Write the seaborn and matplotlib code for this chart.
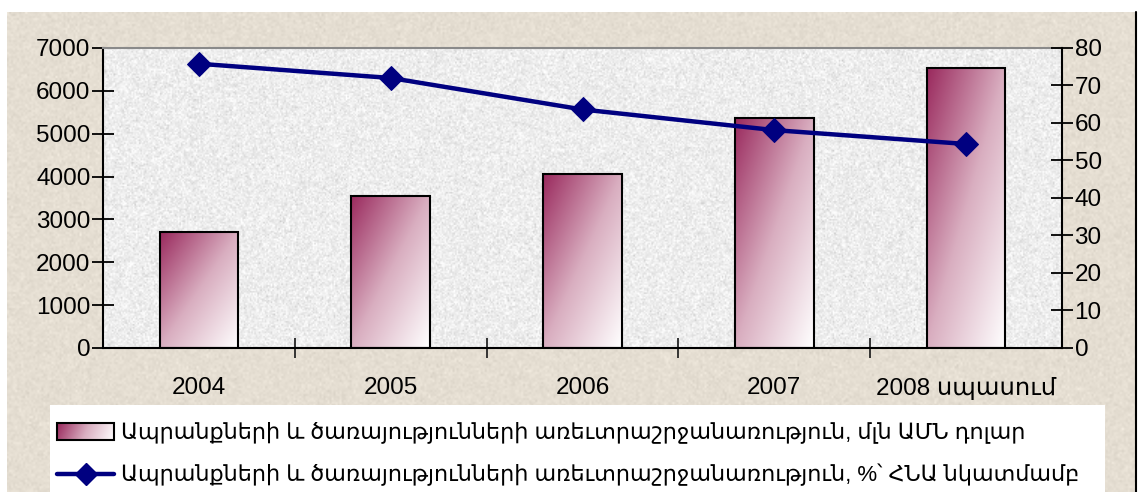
import numpy as np
import matplotlib
matplotlib.use("Agg")
import matplotlib.pyplot as plt
import seaborn as sns
from matplotlib.colors import LinearSegmentedColormap
from matplotlib.patches import Rectangle
from matplotlib.lines import Line2D
from matplotlib.image import BboxImage
from matplotlib.transforms import Bbox, TransformedBbox
from matplotlib.legend_handler import HandlerBase

# data
years = ["2004", "2005", "2006", "2007", "2008 սպասում"]
trade_musd = [2700, 3550, 4050, 5370, 6530]
trade_pct_gdp = [75.8, 72.0, 63.6, 58.1, 54.4]

label_bars = "Ապրանքների և ծառայությունների առեւտրաշրջանառություն, մլն ԱՄՆ դոլար"
label_line = "Ապրանքների և ծառայությունների առեւտրաշրջանառություն, %՝ ՀՆԱ նկատմամբ"

sns.set_theme(style="white")
plt.rcParams['font.family'] = ['Liberation Sans', 'DejaVu Sans']

grad_cmap = LinearSegmentedColormap.from_list("maroon", ["#9a2a5e", "#d9aec0", "#ffffff"])
navy = "#000080"

W, H = 1138, 492
fig = plt.figure(figsize=(W / 100, H / 100), dpi=100)
fig.patch.set_facecolor("white")

# granite-like background texture (styling only)
rng = np.random.default_rng(3)
bg_ax = fig.add_axes([7 / W, 0, 1129 / W, 480 / H], zorder=-10)
noise = rng.normal(0, 1, (240, 560))
beige = np.array([229, 222, 210]) / 255
tex = np.clip(beige[None, None, :] + 0.018 * noise[:, :, None], 0, 1)
bg_ax.imshow(tex, aspect="auto", interpolation="bilinear")
bg_ax.axis("off")
fig.add_artist(Line2D([1136 / W, 1136 / W], [0, 480 / H], color="black", lw=1.5))
# white legend box
fig.add_artist(Rectangle((50 / W, 0), (1105 - 50) / W, 1 - 405 / H, facecolor="white",
                         edgecolor="none", transform=fig.transFigure, zorder=1))

ax = fig.add_axes([103 / W, 1 - 348 / H, (1062 - 103) / W, 300 / H])
noise2 = rng.normal(0, 1, (200, 640))
plot_tex = np.clip(0.93 + 0.04 * noise2, 0, 1)
ax.imshow(plot_tex, cmap="gray", vmin=0, vmax=1, extent=[0, 1, 0, 1],
          transform=ax.transAxes, aspect="auto", interpolation="bilinear", zorder=0)

sns.barplot(x=years, y=trade_musd, ax=ax, width=0.41, facecolor="none",
            edgecolor="black", linewidth=1.5, zorder=3)

# diagonal gradient inside each bar
gx, gy = np.meshgrid(np.linspace(0, 1, 100), np.linspace(0, 1, 100))
grad = (gx + gy) / 2  # origin='upper': dark top-left, white bottom-right
for p in ax.patches:
    x0, y0 = p.get_x(), p.get_y()
    im = ax.imshow(grad, cmap=grad_cmap, vmin=0, vmax=1, aspect="auto",
                   extent=[x0, x0 + p.get_width(), y0, y0 + p.get_height()],
                   zorder=2, interpolation="bilinear")
    im.set_clip_path(p)

ax.set_xlim(-0.5, 4.5)
ax.set_ylim(0, 7000)
ax.set_yticks(range(0, 7001, 1000))
ax.set_xlabel("")
ax.set_ylabel("")
ax.set_xticks([0, 1, 2, 3, 4])
ax.set_xticklabels(years)
ax.set_xticks([0.5, 1.5, 2.5, 3.5], minor=True)
ax.tick_params(axis="x", which="major", length=0, pad=21, labelsize=17.5, colors="black")
ax.tick_params(axis="x", which="minor", length=15, width=1.3, direction="inout", bottom=True)
ax.tick_params(axis="y", length=16, width=1.3, direction="inout", left=True,
               labelsize=17.5, pad=1, colors="black")
for s in ["left", "bottom"]:
    ax.spines[s].set_color("black")
    ax.spines[s].set_linewidth(1.5)
ax.spines["top"].set_color("#8a8a8a")
ax.spines["top"].set_linewidth(1.5)
ax.spines["right"].set_visible(False)

ax2 = ax.twinx()
sns.lineplot(x=years, y=trade_pct_gdp, ax=ax2, color=navy, linewidth=3.2,
             marker="D", markersize=12, markeredgecolor=navy, sort=False, zorder=5)
ax2.set_ylim(0, 80)
ax2.set_yticks(range(0, 81, 10))
ax2.set_ylabel("")
ax2.tick_params(axis="y", length=16, width=1.3, direction="inout", right=True,
                labelsize=17.5, pad=1, colors="black")
ax2.spines["right"].set_color("black")
ax2.spines["right"].set_linewidth(1.5)
for s in ["left", "top", "bottom"]:
    ax2.spines[s].set_visible(False)
ax.set_xlim(-0.5, 4.5)


class GradientHandler(HandlerBase):
    def create_artists(self, legend, orig_handle, xdescent, ydescent, width, height, fontsize, trans):
        bb = TransformedBbox(Bbox.from_bounds(-xdescent, -ydescent - 1, width, height + 1), trans)
        img = BboxImage(bb, cmap=grad_cmap, norm=plt.Normalize(0, 1), interpolation="bilinear")
        hx, hy = np.meshgrid(np.linspace(0, 1, 60), np.linspace(0, 1, 10))
        img.set_data(hx * 0.9 + hy * 0.1)
        rect = Rectangle((-xdescent, -ydescent - 1), width, height + 1, facecolor="none",
                         edgecolor="black", linewidth=1.5, transform=trans)
        return [img, rect]


bar_handle = Rectangle((0, 0), 1, 1)
line_handle = Line2D([], [], color=navy, linewidth=3.2, marker="D", markersize=11)
leg = fig.legend([bar_handle, line_handle], [label_bars, label_line],
                 handler_map={Rectangle: GradientHandler()},
                 loc="upper left", bbox_to_anchor=(50 / W, 1 - 415 / H),
                 frameon=False, fontsize=16, handlelength=2.6,
                 handletextpad=0.3, labelspacing=0.92, borderpad=0.3, borderaxespad=0)
leg.set_zorder(2)
for t in leg.get_texts():
    t.set_color("black")

fig.savefig("out.png", dpi=100)
